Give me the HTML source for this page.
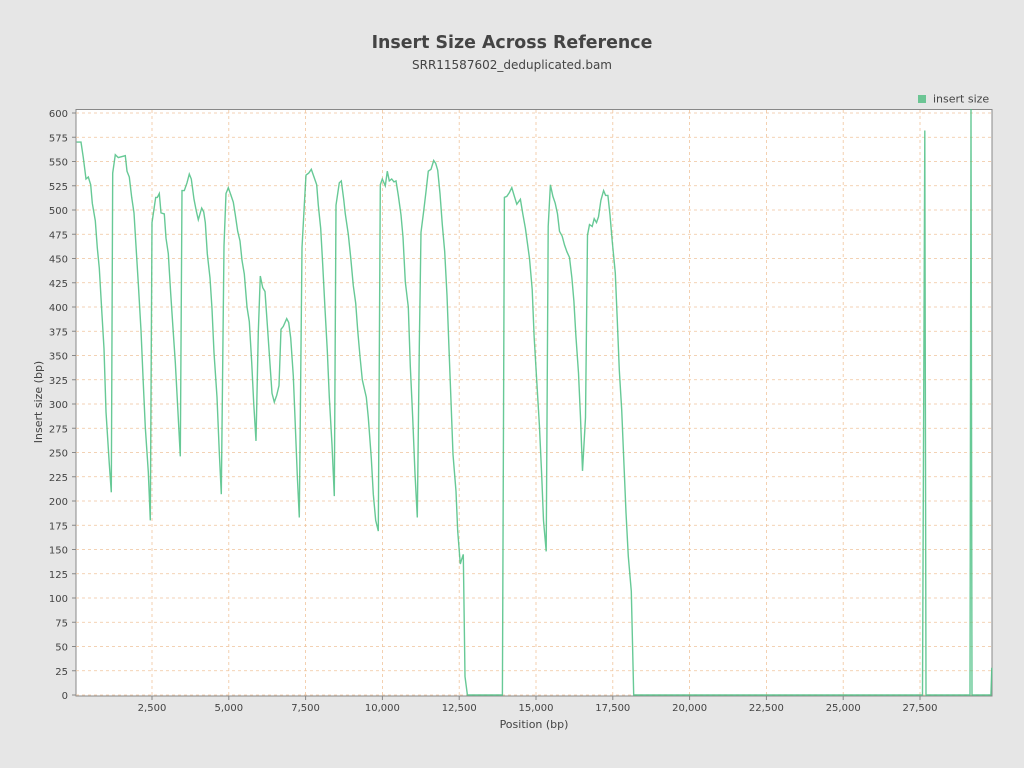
<!DOCTYPE html>
<html><head><meta charset="utf-8"><style>
body{margin:0;background:#e6e6e6;font-family:"DejaVu Sans","Liberation Sans",sans-serif;}
svg{display:block}
</style></head><body>
<svg id="chart" width="1024" height="768" xmlns="http://www.w3.org/2000/svg">
<rect width="1024" height="768" fill="#e6e6e6"/>
<text x="512" y="48" text-anchor="middle" font-size="17.4" font-weight="bold" fill="#444">Insert Size Across Reference</text>
<text x="512" y="69" text-anchor="middle" font-size="12" fill="#444">SRR11587602_deduplicated.bam</text>
<rect x="918" y="95" width="8" height="8" fill="#6cc594"/>
<text x="933" y="102.5" font-size="11" fill="#444">insert size</text>
<rect x="76" y="109.5" width="916" height="586.5" fill="#fff" stroke="#888" stroke-width="1"/>
<g id="grid"></g><g id="axes"></g>
<path id="series" fill="none" stroke="#4cc084" stroke-width="1.4" stroke-opacity="0.85"/>
<text x="534" y="728" text-anchor="middle" font-size="11" fill="#444">Position (bp)</text>
<text transform="translate(42,402) rotate(-90)" text-anchor="middle" font-size="11" fill="#444">Insert size (bp)</text>
</svg>
<script>
const positions=[46,189,263,352,427,505,556,654,720,785,872,937,1003,1110,1176,1220,1306,1404,1632,1686,1762,1839,1914,1979,2054,2142,2218,2283,2381,2446,2500,2620,2674,2739,2793,2902,2956,3032,3109,3183,3258,3346,3422,3476,3551,3639,3714,3780,3867,3942,4007,4117,4182,4235,4300,4388,4454,4518,4616,4691,4756,4843,4909,4984,5072,5146,5211,5290,5365,5429,5504,5592,5667,5745,5810,5885,5960,6026,6103,6178,6253,6341,6407,6481,6559,6634,6699,6774,6885,6950,7015,7099,7165,7230,7295,7383,7457,7513,7601,7685,7773,7861,7913,7992,8057,8131,8206,8272,8359,8434,8489,8597,8663,8741,8792,8890,8968,9053,9132,9197,9271,9346,9476,9541,9639,9704,9782,9866,9932,9997,10095,10160,10226,10302,10377,10443,10518,10606,10671,10745,10843,10909,10987,11061,11136,11201,11257,11345,11420,11494,11582,11670,11736,11801,11875,11950,12028,12104,12169,12234,12299,12397,12452,12537,12570,12635,12690,12766,13907,13972,14049,14135,14213,14288,14376,14493,14571,14656,14721,14787,14875,14939,15004,15112,15190,15243,15331,15396,15470,15549,15624,15699,15764,15852,15927,16006,16091,16169,16234,16299,16384,16449,16514,16612,16677,16742,16830,16895,16970,17036,17114,17199,17264,17342,17409,17483,17581,17646,17711,17790,17865,17930,18005,18103,18180,27581,27656,27696,29128,29160,29193,29807,29837];
const insertSizes=[570,570,554,532,534,526,507,489,461,440,392,357,292,238,209,538,557,554,556,540,534,513,497,463,424,376,321,276,230,180,487,513,513,517,497,496,471,455,414,378,343,291,246,520,520,528,537,532,511,499,490,502,498,487,455,430,398,353,307,250,207,463,517,523,515,508,495,478,468,448,434,400,385,343,301,262,374,432,420,416,382,341,311,302,309,319,377,380,388,384,368,329,278,226,183,461,505,536,538,542,534,526,505,481,444,398,355,307,258,205,505,528,530,511,496,475,451,422,404,376,349,325,307,286,244,207,180,169,526,532,525,540,530,532,529,530,515,495,472,426,400,339,286,228,183,359,477,499,519,540,542,551,548,541,517,485,457,412,357,303,248,210,169,135,139,145,19,0,0,513,514,518,523,515,506,511,496,481,466,450,418,370,335,278,224,180,148,483,526,514,507,496,478,473,464,457,451,430,406,370,332,286,231,286,474,485,483,491,487,493,510,520,515,515,495,467,435,386,335,294,237,188,143,107,0,0,582,0,0,620,0,0,28];
const xTicks=[2500,5000,7500,10000,12500,15000,17500,20000,22500,25000,27500];
const xTickLabels=["2,500","5,000","7,500","10,000","12,500","15,000","17,500","20,000","22,500","25,000","27,500"];
const yTicks=[0,25,50,75,100,125,150,175,200,225,250,275,300,325,350,375,400,425,450,475,500,525,550,575,600];
const L=76,R=992,T=110,B=696;
const x0=75.2,xK=0.03072;
const yMax=(695-110)/0.97;
function xs(v){return x0+v*xK;}
function ys(v){return 695-Math.min(v,yMax+1)*0.97;}
const NS="http://www.w3.org/2000/svg";
const grid=document.getElementById('grid'),axes=document.getElementById('axes');
function mk(tag,attrs,parent){const e=document.createElementNS(NS,tag);for(const k in attrs)e.setAttribute(k,attrs[k]);parent.appendChild(e);return e;}
yTicks.forEach((t)=>{const y=ys(t);
 const g=mk('line',{x1:L,x2:R,y1:y,y2:y,stroke:'#f0c49c','stroke-width':0.8,'stroke-dasharray':'3,3'},grid);
 
 
 mk('line',{x1:L-4,x2:L,y1:y,y2:y,stroke:'#888'},axes);
 const tx=mk('text',{x:L-8,y:y+4,'text-anchor':'end','font-size':10,fill:'#444'},axes);
 
 
 tx.textContent=t;});
xTicks.forEach((t,i)=>{const x=xs(t);
 const g=mk('line',{x1:x,x2:x,y1:T,y2:B,stroke:'#f0c49c','stroke-width':0.8,'stroke-dasharray':'3,3'},grid);
 
 
 mk('line',{x1:x,x2:x,y1:B,y2:B+4,stroke:'#888'},axes);
 const tx=mk('text',{x:x,y:B+15,'text-anchor':'middle','font-size':10,fill:'#444'},axes);
 
 
 tx.textContent=xTickLabels[i];});
let d='';positions.forEach((p,i)=>{d+=(i?'L':'M')+xs(p).toFixed(1)+','+ys(insertSizes[i]).toFixed(1);});
document.getElementById('series').setAttribute('d',d);
</script>
</body></html>
